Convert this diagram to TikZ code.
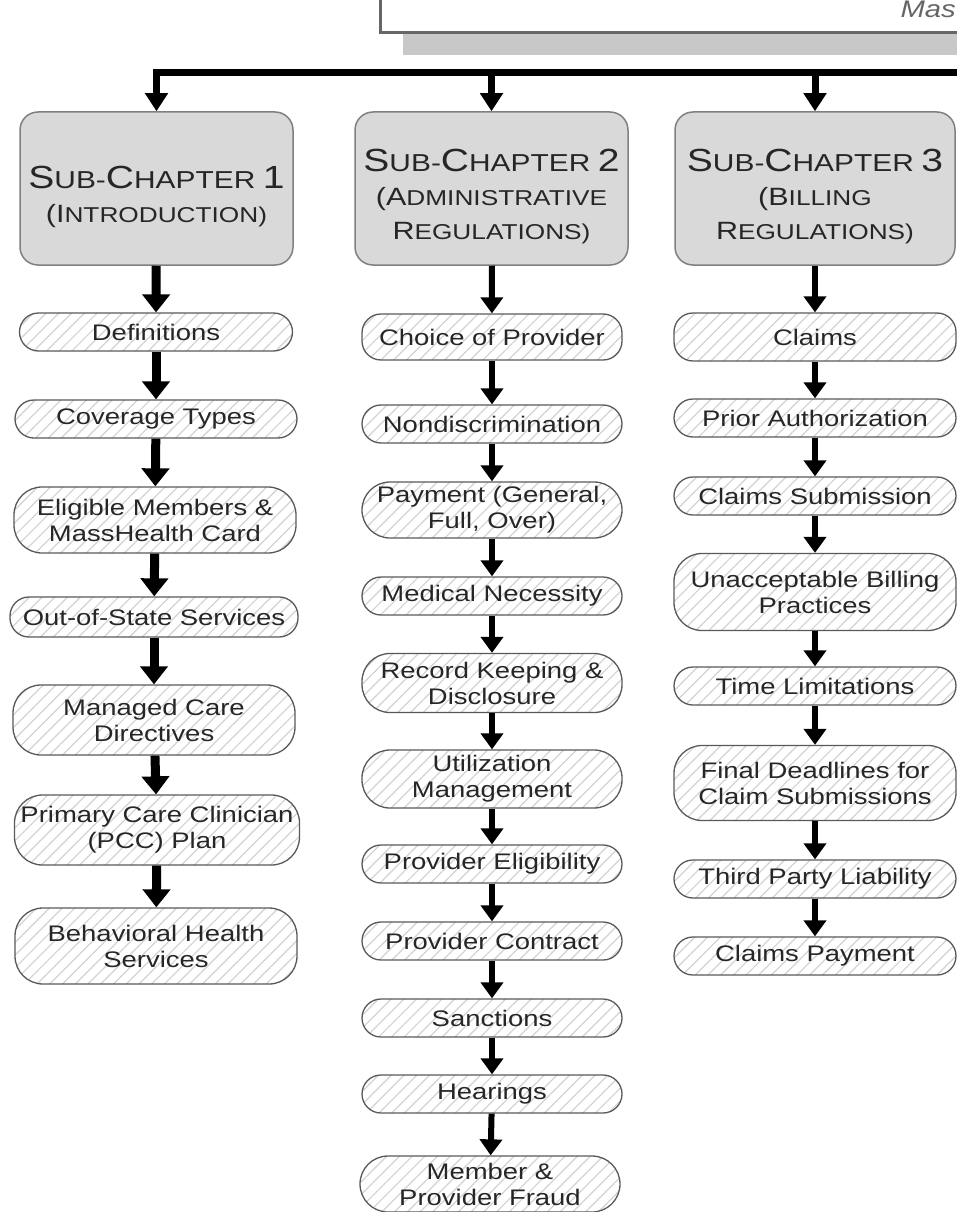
\documentclass[tikz,border=0pt]{standalone}
\usepackage{fontspec}
\setmainfont{Liberation Sans}[FakeStretch=1.22]
\usepackage{tikz}
\usetikzlibrary{arrows.meta,patterns.meta,positioning}

% fake small caps for the chapter headers
\newcommand{\capA}[1]{{\fontsize{32}{36}\selectfont #1}}
\newcommand{\capB}[1]{{\fontsize{24.5}{28}\selectfont #1}}
\newcommand{\capC}[1]{{\fontsize{25}{28}\selectfont #1}}
\newcommand{\capD}[1]{{\fontsize{21.5}{25}\selectfont #1}}

\begin{document}
\begin{tikzpicture}[
    x=1pt, y=-1pt,
    chap/.style={rectangle, draw=black!50, line width=1.5pt, fill=gray!30, rounded corners=18pt, minimum width=273pt, minimum height=153pt},
    chaptext/.style={align=center, text=black!85, font=\fontsize{22}{34}\selectfont},
    item/.style={rectangle, draw=black!65, line width=1.3pt, rounded corners=19pt, pattern={Lines[angle=45,distance=9pt,line width=1.2pt]}, pattern color=gray!35, align=center, inner sep=0pt, text=black!85, font=\fontsize{22.5}{26}\selectfont, minimum height=38pt},
    tall/.style={rounded corners=28pt},
    c1/.style={item, minimum width=282pt},
    c2/.style={item, minimum width=260pt},
    c3/.style={item, minimum width=282pt},
    link/.style={line width=6pt, -{Triangle[width=22pt,length=16pt]}},
    biglink/.style={line width=9pt, -{Triangle[width=27pt,length=18pt]}},
    bus/.style={line width=7pt, -{Triangle[width=22pt,length=18pt]}}
]
    \useasboundingbox (0,0) rectangle (957,1212);
    \clip (0,0) rectangle (957,1212);

    % Top box (cut off)
    \fill[gray!43] (403,10) rectangle (990,55);
    \draw[black!60, line width=3pt, fill=white] (380,-20) rectangle (990,33);
    \node[font=\itshape\fontsize{24}{24}\selectfont, text=black!60, anchor=base west] (mas) at (897,18) {Mas};

    % Headers
    \node[chap] (ch1) at (156.5,188.5) {};
    \node[chap] (ch2) at (491.5,188.5) {};
    \node[chap, minimum width=280pt] (ch3) at (815,188.5) {};
    \node[chaptext] (ch1t) at (156.5,197) {\capA{S}\capB{UB-}\capA{C}\capB{HAPTER} \capA{1}\\\capC{(I}\capD{NTRODUCTION)}};
    \node[chaptext] (ch2t) at (491.5,197) {\capA{S}\capB{UB-}\capA{C}\capB{HAPTER} \capA{2}\\\capC{(A}\capD{DMINISTRATIVE}\\\capC{R}\capD{EGULATIONS)}};
    \node[chaptext] (ch3t) at (815,197) {\capA{S}\capB{UB-}\capA{C}\capB{HAPTER} \capA{3}\\\capC{(B}\capD{ILLING}\\\capC{R}\capD{EGULATIONS)}};

    % Introduction column
    \node[c1, minimum width=273pt] (d1) at (156,332) {Definitions};
    \node[c1] (d2) at (156,419) {Coverage Types};
    \node[c1, tall, minimum height=66pt] (d3) at (155,520) {Eligible Members \&\\MassHealth Card};
    \node[c1, minimum width=288pt, minimum height=40pt] (d4) at (154,617) {Out-of-State Services};
    \node[c1, tall, minimum height=70pt] (d5) at (154,720) {Managed Care\\Directives};
    \node[c1, tall, minimum height=70pt, minimum width=285pt] (d6) at (157,830) {Primary Care Clinician\\(PCC) Plan};
    \node[c1, tall, minimum height=76pt] (d7) at (156,946) {Behavioral Health\\Services};

    % Administrative column
    \node[c2, minimum height=46pt] (a1) at (492,337) {Choice of Provider};
    \node[c2] (a2) at (492,424) {Nondiscrimination};
    \node[c2, tall, minimum height=56pt] (a3) at (492,510) {Payment (General,\\Full, Over)};
    \node[c2] (a4) at (492,596) {Medical Necessity};
    \node[c2, tall, minimum height=59pt] (a5) at (492,683) {Record Keeping \&\\Disclosure};
    \node[c2, tall, minimum height=58pt] (a6) at (492,779) {Utilization\\Management};
    \node[c2] (a7) at (492,864) {Provider Eligibility};
    \node[c2] (a8) at (492,941) {Provider Contract};
    \node[c2] (a9) at (492,1018) {Sanctions};
    \node[c2] (a10) at (492,1094) {Hearings};
    \node[c2, tall, minimum height=56pt] (a11) at (490,1184) {Member \&\\Provider Fraud};

    % Billing column
    \node[c3, minimum height=48pt] (b1) at (815,337) {Claims};
    \node[c3] (b2) at (815,418) {Prior Authorization};
    \node[c3] (b3) at (815,496) {Claims Submission};
    \node[c3, tall, minimum height=77pt] (b4) at (815,592) {Unacceptable Billing\\Practices};
    \node[c3] (b5) at (815,686) {Time Limitations};
    \node[c3, tall, minimum height=75pt] (b6) at (815,783) {Final Deadlines for\\Claim Submissions};
    \node[c3] (b7) at (815,879) {Third Party Liability};
    \node[c3] (b8) at (815,956) {Claims Payment};

    % Bus from the top box
    \coordinate (busR) at (990,73);
    \draw[bus] (busR) -| (ch1.north);
    \draw[bus] (ch2.north |- busR) -- (ch2.north);
    \draw[bus] (ch3.north |- busR) -- (ch3.north);

    % Arrows
    \draw[biglink] (ch1) -- (d1);
    \draw[biglink] (d1) -- (d2);
    \draw[biglink] (d2) -- (d3);
    \draw[biglink] (d3) -- (d4);
    \draw[biglink] (d4) -- (d5);
    \draw[biglink] (d5) -- (d6);
    \draw[biglink] (d6) -- (d7);

    \draw[link] (ch2) -- (a1);
    \draw[link] (a1) -- (a2);
    \draw[link] (a2) -- (a3);
    \draw[link] (a3) -- (a4);
    \draw[link] (a4) -- (a5);
    \draw[link] (a5) -- (a6);
    \draw[link] (a6) -- (a7);
    \draw[link] (a7) -- (a8);
    \draw[link] (a8) -- (a9);
    \draw[link] (a9) -- (a10);
    \draw[link] (a10) -- (a11);

    \draw[link] (ch3) -- (b1);
    \draw[link] (b1) -- (b2);
    \draw[link] (b2) -- (b3);
    \draw[link] (b3) -- (b4);
    \draw[link] (b4) -- (b5);
    \draw[link] (b5) -- (b6);
    \draw[link] (b6) -- (b7);
    \draw[link] (b7) -- (b8);
\end{tikzpicture}
\end{document}
